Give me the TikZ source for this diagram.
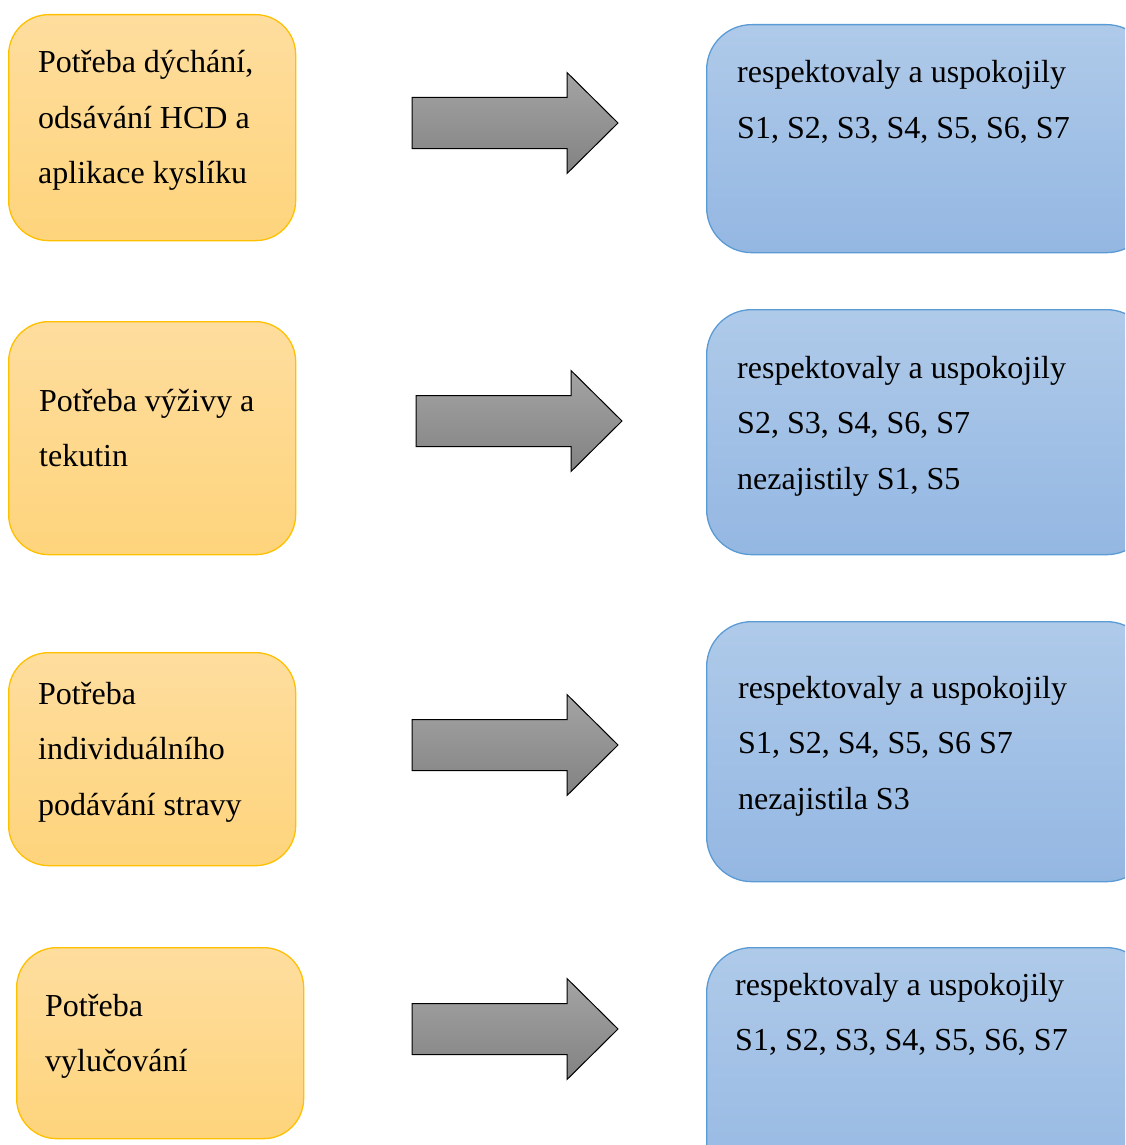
\documentclass[tikz,border=0pt]{standalone}
\usepackage{fontspec}
\setmainfont{Liberation Serif}
\definecolor{needtop}{HTML}{FEDD9E}
\definecolor{needbot}{HTML}{FED47C}
\definecolor{needline}{HTML}{FFC000}
\definecolor{restop}{HTML}{AFCAE9}
\definecolor{resbot}{HTML}{94B7E2}
\definecolor{resline}{HTML}{5B9BD5}
\definecolor{arrtop}{HTML}{A4A4A4}
\definecolor{arrbot}{HTML}{828282}
\begin{document}
\begin{tikzpicture}[x=1pt,y=-1pt,
  needbox/.style={draw=needline, line width=1.3pt, rounded corners=40pt,
    top color=needtop, bottom color=needbot, minimum width=287pt,
    inner sep=0pt, anchor=north west},
  resbox/.style={draw=resline, line width=1.3pt, rounded corners=45pt,
    top color=restop, bottom color=resbot, minimum width=445pt,
    inner sep=0pt, anchor=north west},
  fatarrow/.style={draw=black, line width=1pt, line join=miter,
    top color=arrtop, bottom color=arrbot},
  txt/.style={anchor=base west, inner sep=0pt, font=\fontsize{32}{55.5}\selectfont}]
\useasboundingbox (0,0) rectangle (1125,1145);
\clip (0,0) rectangle (1125,1145);

% needs (left column)
\node[needbox, minimum height=226pt] (n1) at (8,14) {};
\node[needbox, minimum height=233pt] (n2) at (8,321) {};
\node[needbox, minimum height=213pt] (n3) at (8,652) {};
\node[needbox, minimum height=191pt] (n4) at (16,947) {};

\node[txt] (tn1) at (38,73) {\parbox[t]{280pt}{Potřeba dýchání,\\odsávání HCD a\\aplikace kyslíku}};
\node[txt] (tn2) at (39,411) {\parbox[t]{280pt}{Potřeba výživy a\\tekutin}};
\node[txt] (tn3) at (38,704) {\parbox[t]{280pt}{Potřeba\\individuálního\\podávání stravy}};
\node[txt] (tn4) at (45,1016) {\parbox[t]{280pt}{Potřeba\\vylučování}};

% results (right column)
\node[resbox, minimum height=228pt] (r1) at (706,24) {};
\node[resbox, minimum height=245pt] (r2) at (706,309) {};
\node[resbox, minimum height=260pt] (r3) at (706,621) {};
\node[resbox, minimum height=260pt] (r4) at (706,947) {};

\node[txt] (tr1) at (737,83) {\parbox[t]{400pt}{respektovaly a uspokojily\\S1, S2, S3, S4, S5, S6, S7}};
\node[txt] (tr2) at (737,378) {\parbox[t]{400pt}{respektovaly a uspokojily\\S2, S3, S4, S6, S7\\nezajistily S1, S5}};
\node[txt] (tr3) at (738,698) {\parbox[t]{400pt}{respektovaly a uspokojily\\S1, S2, S4, S5, S6 S7\\nezajistila S3}};
\node[txt] (tr4) at (735,995) {\parbox[t]{400pt}{respektovaly a uspokojily\\S1, S2, S3, S4, S5, S6, S7}};

% block arrows between the columns
\foreach \x/\y in {412/123, 416/421, 412/745, 412/1029}
  \path[fatarrow] (\x,\y-25.5) -- ++(155,0) -- ++(0,-25) -- ++(51,50.5)
    -- ++(-51,50.5) -- ++(0,-25) -- ++(-155,0) -- cycle;
\end{tikzpicture}
\end{document}
